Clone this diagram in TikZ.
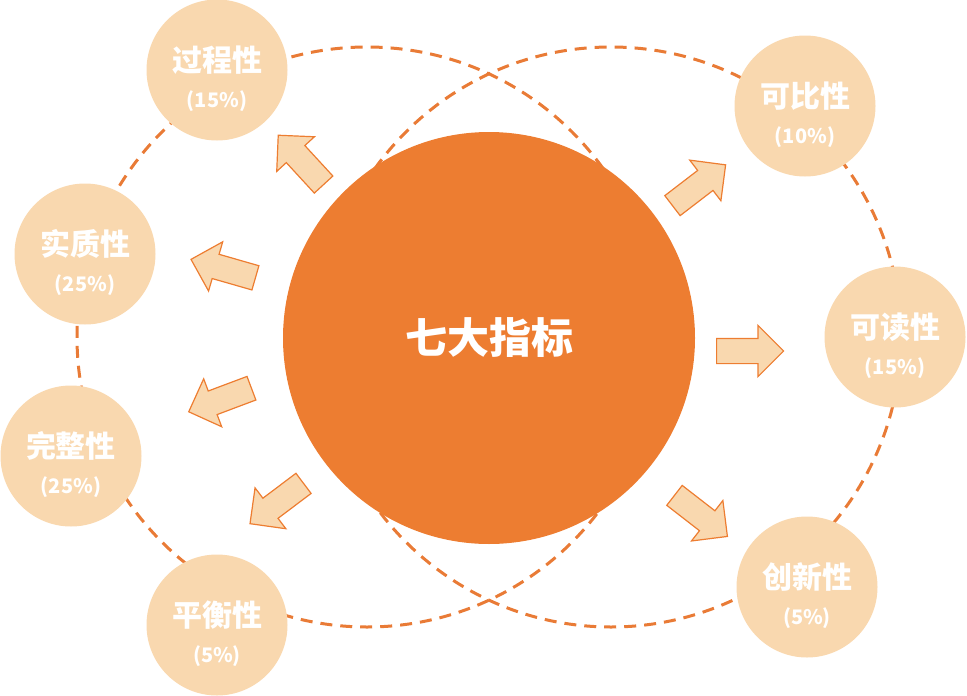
\documentclass[tikz,border=0pt]{standalone}
\usepackage{fontspec}
\setmainfont{Noto Sans CJK SC}
\usetikzlibrary{shapes.arrows}
\definecolor{hubcol}{HTML}{ED7D31}
\definecolor{peach}{HTML}{F9D8AF}
\definecolor{dashcol}{HTML}{E97B36}
\tikzset{
  ring/.style={draw=dashcol, line width=3pt, dash pattern=on 12pt off 8pt},
  hub/.style={circle, fill=hubcol, minimum size=412pt, text=white, font=\fontsize{42}{46}\selectfont\bfseries},
  metric/.style={circle, fill=peach, minimum size=141pt, inner sep=0pt, text=white, align=center, font=\fontsize{30}{36}\selectfont\bfseries},
  pushout/.style={single arrow, draw=hubcol, fill=peach, line width=1.2pt, minimum height=67pt, minimum width=50pt, single arrow head extend=13pt, single arrow tip angle=90, inner xsep=0pt, inner ysep=12pt, anchor=tail}
}
\newcommand{\mtext}[2]{\rule{0pt}{44pt}#1\\{\fontsize{20}{22}\selectfont #2}}

\begin{document}
\begin{tikzpicture}[x=1pt, y=1pt]
  \useasboundingbox (0,0) rectangle (967,-696);
  % dashed rings behind everything
  \coordinate (lc) at (367,-337);
  \coordinate (rc) at (611,-337);
  \draw[ring] (lc) circle[radius=290pt];
  \draw[ring] (rc) circle[radius=290pt];
  % centre
  \node[hub] (hub) at (489,-338) {七大指标};
  % the seven metrics
  \node[metric] (proc) at (217,-70) {\mtext{过程性}{(15\%)}};
  \node[metric] (subst) at (85,-254) {\mtext{实质性}{(25\%)}};
  \node[metric] (compl) at (71,-456) {\mtext{完整性}{(25\%)}};
  \node[metric] (bal) at (217,-625) {\mtext{平衡性}{(5\%)}};
  \node[metric] (comp) at (805,-106) {\mtext{可比性}{(10\%)}};
  \node[metric] (read) at (895,-337) {\mtext{可读性}{(15\%)}};
  \node[metric] (innov) at (807,-587) {\mtext{创新性}{(5\%)}};
  % block arrows
  \node[pushout, rotate=132.6] (toproc) at (324,-185) {};
  \node[pushout, rotate=164] (tosubst) at (256,-278) {};
  \node[pushout, rotate=200.6] (tocompl) at (252,-388) {};
  \node[pushout, rotate=217] (tobal) at (304,-483) {};
  \node[pushout, rotate=37.5] (tocomp) at (672,-206) {};
  \node[pushout, rotate=0] (toread) at (716,-351) {};
  \node[pushout, rotate=-37.8] (toinnov) at (674,-495) {};
\end{tikzpicture}
\end{document}
